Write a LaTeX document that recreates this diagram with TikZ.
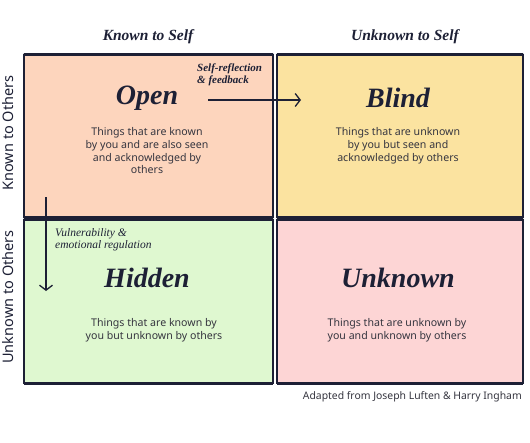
\documentclass[tikz,border=0pt]{standalone}
\usepackage{fontspec}
\setmainfont{Liberation Serif}
\newfontfamily\bodyfont{Noto Sans}
\usetikzlibrary{arrows.meta}
\definecolor{ink}{HTML}{1D2035}
\definecolor{bodygray}{HTML}{35353F}
\definecolor{openc}{HTML}{FDD5BD}
\definecolor{blindc}{HTML}{FBE3A0}
\definecolor{hiddenc}{HTML}{DFF8D0}
\definecolor{unknownc}{HTML}{FDD5D5}
\tikzset{
  quad/.style={draw=ink, line width=1.3pt, inner sep=0pt},
  quadtop/.style={draw=ink, line width=2.4pt, line cap=round},
  qtitle/.style={text=ink, font=\bfseries\itshape\fontsize{28}{30}\selectfont, inner sep=0pt},
  qbody/.style={text=bodygray, font=\bodyfont\fontsize{10.6}{12.9}\selectfont, align=center, inner sep=0pt},
  header/.style={text=ink, font=\bfseries\itshape\fontsize{15.5}{18}\selectfont, inner sep=0pt},
  sidelabel/.style={text=ink, font=\bodyfont\fontsize{14.5}{16}\selectfont, inner sep=0pt, rotate=90, anchor=base},
  arrowlabel/.style={text=ink, font=\itshape\fontsize{11.5}{12.5}\selectfont, align=left, inner sep=0pt, anchor=north west},
  flow/.style={draw=ink, line width=1.3pt, -{Straight Barb[length=5pt,width=13pt,line width=1.3pt]}},
  caption/.style={text=bodygray, font=\bodyfont\fontsize{10.4}{12}\selectfont, inner sep=0pt, anchor=east}
}
\begin{document}
\begin{tikzpicture}[x=1pt,y=-1pt]
\useasboundingbox (0,0) rectangle (530,442);
% quadrants
\node[quad, fill=openc, minimum width=249pt, minimum height=162pt] (open) at (148.5,136) {};
\node[quad, fill=blindc, minimum width=246pt, minimum height=162pt] (blind) at (400,136) {};
\node[quad, fill=hiddenc, minimum width=249pt, minimum height=163pt] (hidden) at (148.5,301.5) {};
\node[quad, fill=unknownc, minimum width=246pt, minimum height=163pt] (unknown) at (400,301.5) {};
\foreach \q in {open,blind,hidden,unknown}{
  \draw[quadtop] ([xshift=1pt]\q.north west) -- ([xshift=-1pt]\q.north east);
  \draw[draw=ink, line width=1.8pt] ([xshift=1pt]\q.south west) -- ([xshift=-1pt]\q.south east);
}
% headers
\node[header] (hks) at (148,37) {Known to Self};
\node[header] (hus) at (405,37) {Unknown to Self};
\node[sidelabel] (sko) at (13,133) {Known to Others};
\node[sidelabel] (suo) at (13,297) {Unknown to Others};
% titles
\node[qtitle] (topen) at (147,98) {Open};
\node[qtitle] (tblind) at (398,98) {Blind};
\node[qtitle] (thidden) at (147,278) {Hidden};
\node[qtitle] (tunknown) at (398,278) {Unknown};
% bodies
\node[qbody, anchor=north] (bopen) at (147,127) {Things that are known\\by you and are also seen\\and acknowledged by\\others};
\node[qbody, anchor=north] (bblind) at (398,127) {Things that are unknown\\by you but seen and\\acknowledged by others};
\node[qbody, anchor=north] (bhidden) at (154,318) {Things that are known by\\you but unknown by others};
\node[qbody, anchor=north] (bunknown) at (397,318) {Things that are unknown by\\you and unknown by others};
% arrows
\coordinate (h1) at (208,100);
\coordinate (h2) at (301,100);
\draw[flow] (h1) -- (h2);
\node[arrowlabel, font=\bfseries\itshape\fontsize{11}{12}\selectfont] (lh) at (197,64) {Self-reflection\\\& feedback};
\coordinate (v1) at (46,197);
\coordinate (v2) at (46,291);
\draw[flow] (v1) -- (v2);
\node[arrowlabel] (lv) at (55,228) {Vulnerability \&\\emotional regulation};
% caption
\node[caption] (cap) at (522,397) {Adapted from Joseph Luften \& Harry Ingham};
\end{tikzpicture}
\end{document}
